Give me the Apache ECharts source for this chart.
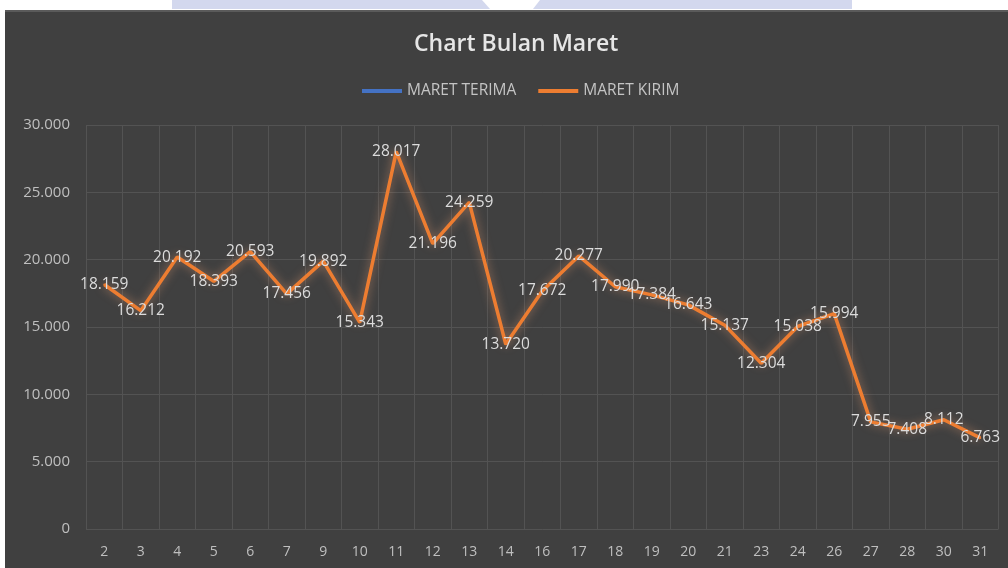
<!DOCTYPE html>
<html>
<head>
<meta charset="utf-8">
<script src="https://cdn.jsdelivr.net/npm/echarts@6/dist/echarts.min.js"></script>
<style>
html,body{margin:0;padding:0;background:#ffffff;}
#c{width:1008px;height:568px;}
</style>
</head>
<body>
<div id="c"></div>
<script>
var categories = ['2','3','4','5','6','7','9','10','11','12','13','14','16','17','18','19','20','21','23','24','26','27','28','30','31'];
var maretKirim = [18159,16212,20192,18393,20593,17456,19892,15343,28017,21196,24259,13720,17672,20277,17990,17384,16643,15137,12304,15038,15994,7955,7408,8112,6763];
var maretTerima = [];
var yTicks = [0,5000,10000,15000,20000,25000,30000];

function fmt(v){
  return String(v).replace(/\B(?=(\d{3})+(?!\d))/g, '.');
}

var chart = echarts.init(document.getElementById('c'));
var font = '"Open Sans", "Noto Sans", sans-serif';
chart.setOption({
  backgroundColor: '#404040',
  animation: false,
  graphic: [
    {type:'rect', shape:{x:0,y:0,width:1008,height:10}, style:{fill:'#ffffff'}, z:100},
    {type:'rect', shape:{x:0,y:0,width:5,height:568}, style:{fill:'#ffffff'}, z:100},
    {type:'polygon', shape:{points:[[172,0],[482,0],[490,9],[172,9]]}, style:{fill:'#d3d8ee'}, z:101},
    {type:'polygon', shape:{points:[[540,0],[852,0],[852,9],[533,9]]}, style:{fill:'#d3d8ee'}, z:101},
    {type:'rect', shape:{x:5,y:10,width:1003,height:2}, style:{fill:'#5a5a5a'}, z:100}
  ],
  title: {
    text: 'Chart Bulan Maret',
    left: 409,
    top: 28,
    textStyle: {color:'#e6e6e6', fontFamily: font, fontWeight: 600, fontSize: 23}
  },
  legend: {
    top: 78,
    left: 357,
    itemWidth: 40,
    itemHeight: 4,
    itemGap: 22,
    icon: 'rect',
    textStyle: {color:'#c4c4c4', fontFamily: font, fontSize: 15.5},
    data: ['MARET TERIMA','MARET KIRIM']
  },
  grid: {left: 86, right: 9.5, top: 125, bottom: 39, containLabel: false},
  xAxis: {
    type: 'category',
    data: categories,
    boundaryGap: true,
    axisLine: {show:false},
    axisTick: {show:false},
    axisLabel: {color:'#bfbfbf', fontFamily: font, fontSize: 14, margin: 16},
    splitLine: {show:true, lineStyle:{color:'#535353', width:1}}
  },
  yAxis: {
    type: 'value',
    min: yTicks[0],
    max: yTicks[yTicks.length-1],
    interval: 5000,
    axisLine: {show:false},
    axisTick: {show:false},
    axisLabel: {color:'#bfbfbf', fontFamily: font, fontSize: 15, margin: 16, formatter: function(v){return fmt(v);}},
    splitLine: {show:true, lineStyle:{color:'#535353', width:1}}
  },
  series: [
    {
      name: 'MARET TERIMA',
      type: 'line',
      data: maretTerima,
      itemStyle: {color:'#4472C4'},
      lineStyle: {color:'#4472C4', width:3}
    },
    {
      name: 'MARET KIRIM',
      type: 'line',
      data: maretKirim,
      symbol: 'circle',
      symbolSize: 2,
      itemStyle: {color:'#ED7D31'},
      lineStyle: {color:'#ED7D31', width:3.5, shadowColor:'rgba(255,170,120,0.55)', shadowBlur:10},
      label: {
        show: true,
        position: 'inside',
        color: '#dcdcdc',
        fontFamily: font,
        fontSize: 15.5,
        formatter: function(p){return fmt(p.value);}
      }
    }
  ]
});
</script>
</body>
</html>
